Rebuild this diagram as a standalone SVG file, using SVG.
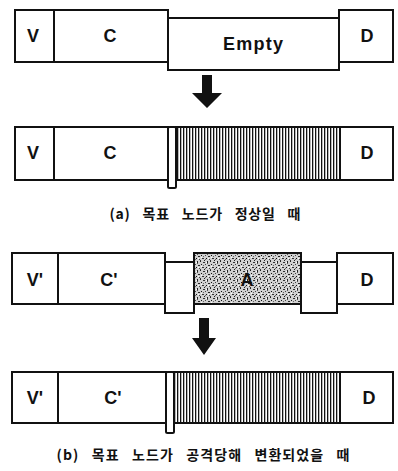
<svg xmlns="http://www.w3.org/2000/svg" width="398" height="471" viewBox="0 0 398 471">
<defs>
<pattern id="hatch" patternUnits="userSpaceOnUse" width="3" height="6">
<rect width="3" height="6" fill="#fff"/>
<rect x="0" width="1.3" height="6" fill="#111"/>
</pattern>
<pattern id="stipple" patternUnits="userSpaceOnUse" width="10" height="9">
<rect width="10" height="9" fill="#d0d0d0"/>
<rect x="0" y="0" width="1" height="1" fill="#222"/>
<rect x="3" y="1" width="2" height="1" fill="#333"/>
<rect x="7" y="0" width="1" height="2" fill="#222"/>
<rect x="1" y="3" width="1" height="1" fill="#111"/>
<rect x="5" y="3" width="1" height="1" fill="#444"/>
<rect x="8" y="4" width="2" height="1" fill="#222"/>
<rect x="2" y="6" width="2" height="1" fill="#333"/>
<rect x="6" y="6" width="1" height="1" fill="#111"/>
<rect x="9" y="7" width="1" height="1" fill="#444"/>
<rect x="0" y="8" width="1" height="1" fill="#333"/>
<rect x="4" y="8" width="1" height="1" fill="#222"/>
<rect x="3" y="4" width="1" height="1" fill="#666"/>
<rect x="7" y="2" width="1" height="1" fill="#555"/>
<rect x="5" y="7" width="1" height="1" fill="#666"/>
<rect x="1" y="5" width="1" height="1" fill="#fff"/>
<rect x="6" y="1" width="1" height="1" fill="#fff"/>
<rect x="8" y="6" width="1" height="1" fill="#fff"/>
</pattern>
</defs>
<style>
.box{fill:#fff;stroke:#111;stroke-width:2}
.hat{fill:url(#hatch);stroke:#111;stroke-width:2}
.stp{fill:url(#stipple);stroke:#111;stroke-width:2}
.lbl{font-family:"Liberation Sans",Arial,sans-serif;font-size:18px;font-weight:bold;fill:#111;text-anchor:middle}
.cap{font-family:"Noto Sans CJK KR","Liberation Sans",sans-serif;font-size:14px;font-weight:bold;fill:#111;text-anchor:middle}
.arr{fill:#111}
</style>
<g id="row1">
<g id="r1-v"><rect class="box" x="15" y="10" width="39" height="52"/><text class="lbl" x="33" y="42">V</text></g>
<g id="r1-c"><rect class="box" x="54" y="10" width="114" height="52"/><text class="lbl" x="110" y="42">C</text></g>
<g id="r1-empty"><rect class="box" x="168" y="18" width="171" height="52"/><text class="lbl" x="253" y="50" textLength="60">Empty</text></g>
<g id="r1-d"><rect class="box" x="339" y="10" width="54" height="52"/><text class="lbl" x="367" y="42">D</text></g>
</g>
<g id="row2">
<g id="r2-v"><rect class="box" x="15" y="127" width="39" height="53"/><text class="lbl" x="33" y="159">V</text></g>
<g id="r2-c"><rect class="box" x="54" y="127" width="114" height="53"/><text class="lbl" x="110" y="159">C</text></g>
<g id="r2-gap"><rect class="box" x="168" y="127" width="8" height="61" rx="1.5"/></g>
<g id="r2-fill"><rect class="hat" x="176" y="127" width="164" height="53"/></g>
<g id="r2-d"><rect class="box" x="340" y="127" width="53" height="53"/><text class="lbl" x="367" y="159">D</text></g>
</g>
<g id="row3">
<g id="r3-v"><rect class="box" x="12" y="253" width="46" height="51"/><text class="lbl" x="35" y="286">V'</text></g>
<g id="r3-c"><rect class="box" x="58" y="253" width="107" height="51"/><text class="lbl" x="109" y="286">C'</text></g>
<g id="r3-gap1"><rect class="box" x="165" y="262" width="29" height="51"/></g>
<g id="r3-a"><rect class="stp" x="194" y="253" width="107" height="51"/><text class="lbl" x="247" y="286">A</text></g>
<g id="r3-gap2"><rect class="box" x="301" y="262" width="36" height="51"/></g>
<g id="r3-d"><rect class="box" x="337" y="253" width="56" height="51"/><text class="lbl" x="367" y="286">D</text></g>
</g>
<g id="row4">
<g id="r4-v"><rect class="box" x="12" y="372" width="46" height="51"/><text class="lbl" x="35" y="404">V'</text></g>
<g id="r4-c"><rect class="box" x="58" y="372" width="108" height="51"/><text class="lbl" x="113" y="404">C'</text></g>
<g id="r4-gap"><rect class="box" x="166" y="372" width="8" height="61" rx="1.5"/></g>
<g id="r4-fill"><rect class="hat" x="174" y="372" width="166" height="51"/></g>
<g id="r4-d"><rect class="box" x="340" y="372" width="53" height="51"/><text class="lbl" x="369" y="404">D</text></g>
</g>
<g id="connectors">
<path class="arr" d="M202 75 H212 V93 H222 L207 108 L192 93 H202 Z"/>
<path class="arr" d="M199 318 H209 V338 H216 L204 355 L192 338 H199 Z"/>
</g>
<g id="captions">
<text class="cap" x="205" y="219" textLength="191" lengthAdjust="spacing" word-spacing="8">(a) 목표 노드가 정상일 때</text>
<text class="cap" x="203" y="460" textLength="293" lengthAdjust="spacing" word-spacing="8">(b) 목표 노드가 공격당해 변환되었을 때</text>
</g>
</svg>
